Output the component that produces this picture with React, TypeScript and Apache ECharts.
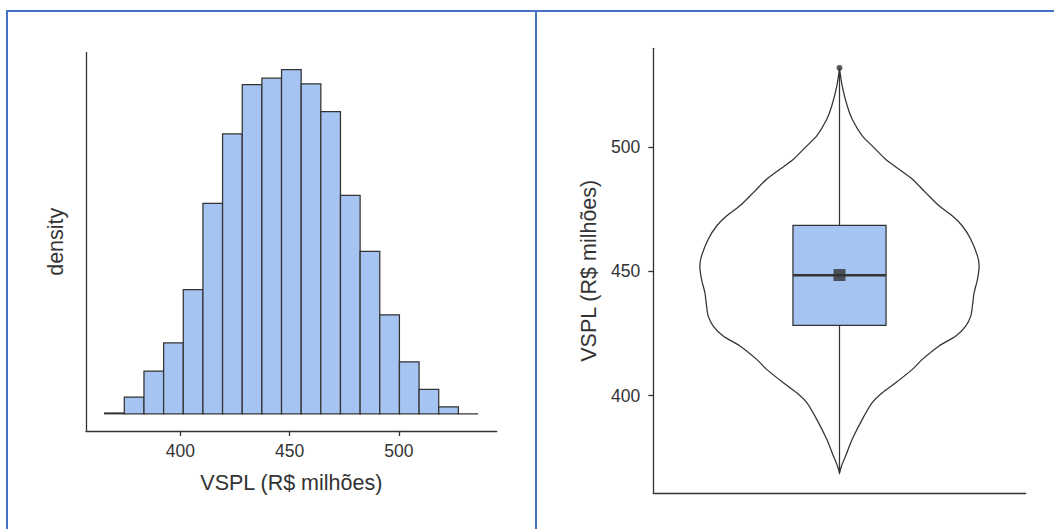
import React, { useEffect, useRef } from 'react';
import * as echarts from 'echarts';

// Histogram (left panel)
const binEdges = [365.3, 374.3, 383.3, 392.3, 401.3, 410.3, 419.3, 428.3, 437.3, 446.3, 455.3, 464.3, 473.3, 482.3, 491.3, 500.3, 509.3, 518.3, 527.3, 536.3];
const density = [0.00003, 0.00063, 0.00161, 0.00267, 0.00468, 0.00793, 0.01054, 0.0124, 0.01264, 0.01296, 0.01243, 0.01138, 0.00823, 0.00612, 0.00373, 0.00196, 0.00092, 0.00026, 0];
const histTicks = [400, 450, 500];

// Violin + box (right panel)
const violinY = [531.5, 524.5, 516.5, 511.1, 504.4, 500.4, 495.0, 491.0, 487.0, 481.6, 476.3, 472.2, 468.2, 462.9, 456.2, 452.1, 446.8, 441.4, 436.1, 432.0, 428.0, 424.0, 420.0, 414.6, 410.6, 405.2, 401.2, 397.2, 390.5, 382.5, 375.7, 371.7, 369.0];
const violinWidth = [0, 0.019, 0.055, 0.091, 0.163, 0.234, 0.33, 0.426, 0.522, 0.617, 0.713, 0.809, 0.88, 0.94, 0.988, 1.0, 0.988, 0.964, 0.952, 0.94, 0.904, 0.833, 0.713, 0.593, 0.522, 0.402, 0.306, 0.234, 0.163, 0.091, 0.043, 0.014, 0];
const boxStats = [369.0, 428.3, 448.4, 468.5, 529.5]; // lower whisker, Q1, median, Q3, upper whisker
const meanValue = [448.5];
const outliers = [531.7];
const violinTicks = [400, 450, 500];

const FONT = '"Liberation Sans", Arial, Helvetica, sans-serif';
const DARK = '#333333';
const FILL = '#A6C4F1';
const LW = 1.25;

export default function App() {
  const ref = useRef<HTMLDivElement>(null);
  useEffect(() => {
    const chart = echarts.init(ref.current as HTMLDivElement, null, { renderer: 'svg' });
    const axisLine = { show: true, onZero: false, lineStyle: { color: DARK, width: 1.3 } };
    const nameStyle = { fontSize: 21.5, color: DARK, fontFamily: FONT };
    const labelStyle = { color: DARK, fontSize: 17.5, fontFamily: FONT };

    const histData = density.map((d, i) => [binEdges[i], binEdges[i + 1], d]);

    const option: any = {
      animation: false,
      backgroundColor: '#ffffff',
      grid: [
        { left: 86, top: 52.5, width: 410.7, height: 378.5 },
        { left: 653.3, top: 48.3, width: 372.4, height: 445 },
      ],
      xAxis: [
        {
          type: 'value', gridIndex: 0, min: 356.75, max: 544.85,
          axisLine, splitLine: { show: false },
          axisTick: { show: true, customValues: histTicks, length: 5, lineStyle: { color: DARK, width: 1.3 } },
          axisLabel: { customValues: histTicks, margin: 11, ...labelStyle },
          name: 'VSPL (R$ milhões)', nameLocation: 'middle', nameGap: 41, nameTextStyle: nameStyle,
        },
        {
          type: 'value', gridIndex: 1, min: -0.6, max: 0.6,
          axisLine, splitLine: { show: false }, axisTick: { show: false }, axisLabel: { show: false },
        },
      ],
      yAxis: [
        {
          type: 'value', gridIndex: 0, min: -0.000648, max: 0.013608,
          axisLine, splitLine: { show: false }, axisTick: { show: false }, axisLabel: { show: false },
          name: 'density', nameLocation: 'middle', nameGap: 19, nameTextStyle: nameStyle,
        },
        {
          type: 'value', gridIndex: 1, min: 360.8, max: 539.6,
          axisLine, splitLine: { show: false },
          axisTick: { show: true, customValues: violinTicks, length: 5, lineStyle: { color: DARK, width: 1.3 } },
          axisLabel: { customValues: violinTicks, margin: 13, ...labelStyle },
          name: 'VSPL (R$ milhões)', nameLocation: 'middle', nameGap: 53, nameTextStyle: nameStyle,
        },
      ],
      graphic: [
        { type: 'line', shape: { x1: 6, y1: 11, x2: 1054, y2: 11 }, style: { stroke: '#4472C4', lineWidth: 2 }, silent: true },
        { type: 'line', shape: { x1: 7, y1: 10, x2: 7, y2: 529 }, style: { stroke: '#4472C4', lineWidth: 2 }, silent: true },
        { type: 'line', shape: { x1: 536, y1: 10, x2: 536, y2: 529 }, style: { stroke: '#4472C4', lineWidth: 2 }, silent: true },
      ],
      series: [
        {
          type: 'custom', xAxisIndex: 0, yAxisIndex: 0,
          data: histData,
          encode: { x: [0, 1], y: 2 },
          renderItem: (params: any, api: any) => {
            const x0 = api.value(0), x1 = api.value(1), v = api.value(2);
            const p0 = api.coord([x0, v]);
            const p1 = api.coord([x1, 0]);
            return {
              type: 'rect',
              shape: { x: p0[0], y: p0[1], width: p1[0] - p0[0], height: p1[1] - p0[1] },
              style: { fill: FILL, stroke: DARK, lineWidth: LW },
            };
          },
        },
        {
          type: 'custom', xAxisIndex: 1, yAxisIndex: 1,
          data: [[0, 450]],
          renderItem: (params: any, api: any) => {
            const right = violinY.map((y, i) => api.coord([violinWidth[i] * 0.45, y]));
            const left = violinY.map((y, i) => api.coord([-violinWidth[i] * 0.45, y])).reverse();
            return {
              type: 'polygon',
              shape: { points: right.concat(left), smooth: 0.25 },
              style: { fill: 'none', stroke: DARK, lineWidth: LW },
            };
          },
        },
        {
          type: 'custom', xAxisIndex: 1, yAxisIndex: 1,
          data: [[0, ...boxStats]],
          encode: { x: 0, y: [1, 2, 3, 4, 5] },
          renderItem: (params: any, api: any) => {
            const lo = api.value(1), q1 = api.value(2), med = api.value(3), q3 = api.value(4), hi = api.value(5);
            const pLo = api.coord([0, lo]);
            const pQ1 = api.coord([0, q1]);
            const pQ3 = api.coord([0, q3]);
            const pHi = api.coord([0, hi]);
            const tl = api.coord([-0.15, q3]);
            const br = api.coord([0.15, q1]);
            const mL = api.coord([-0.15, med]);
            const mR = api.coord([0.15, med]);
            return {
              type: 'group',
              children: [
                { type: 'line', shape: { x1: pLo[0], y1: pLo[1], x2: pQ1[0], y2: pQ1[1] }, style: { stroke: DARK, lineWidth: LW } },
                { type: 'line', shape: { x1: pQ3[0], y1: pQ3[1], x2: pHi[0], y2: pHi[1] }, style: { stroke: DARK, lineWidth: LW } },
                { type: 'rect', shape: { x: tl[0], y: tl[1], width: br[0] - tl[0], height: br[1] - tl[1] }, style: { fill: FILL, stroke: DARK, lineWidth: LW } },
                { type: 'line', shape: { x1: mL[0], y1: mL[1], x2: mR[0], y2: mR[1] }, style: { stroke: DARK, lineWidth: 2.6 } },
              ],
            };
          },
        },
        {
          type: 'scatter', xAxisIndex: 1, yAxisIndex: 1,
          data: meanValue.map((m) => [0, m]),
          symbol: 'rect', symbolSize: 12,
          itemStyle: { color: DARK },
        },
        {
          type: 'scatter', xAxisIndex: 1, yAxisIndex: 1,
          data: outliers.map((o) => [0, o]),
          symbol: 'circle', symbolSize: 6,
          itemStyle: { color: DARK },
        },
      ],
    };
    chart.setOption(option);
    return () => chart.dispose();
  }, []);
  return (
    <div
      ref={ref}
      style={{ position: 'fixed', left: 0, top: 0, width: 1054, height: 529, background: '#ffffff' }}
    />
  );
}
